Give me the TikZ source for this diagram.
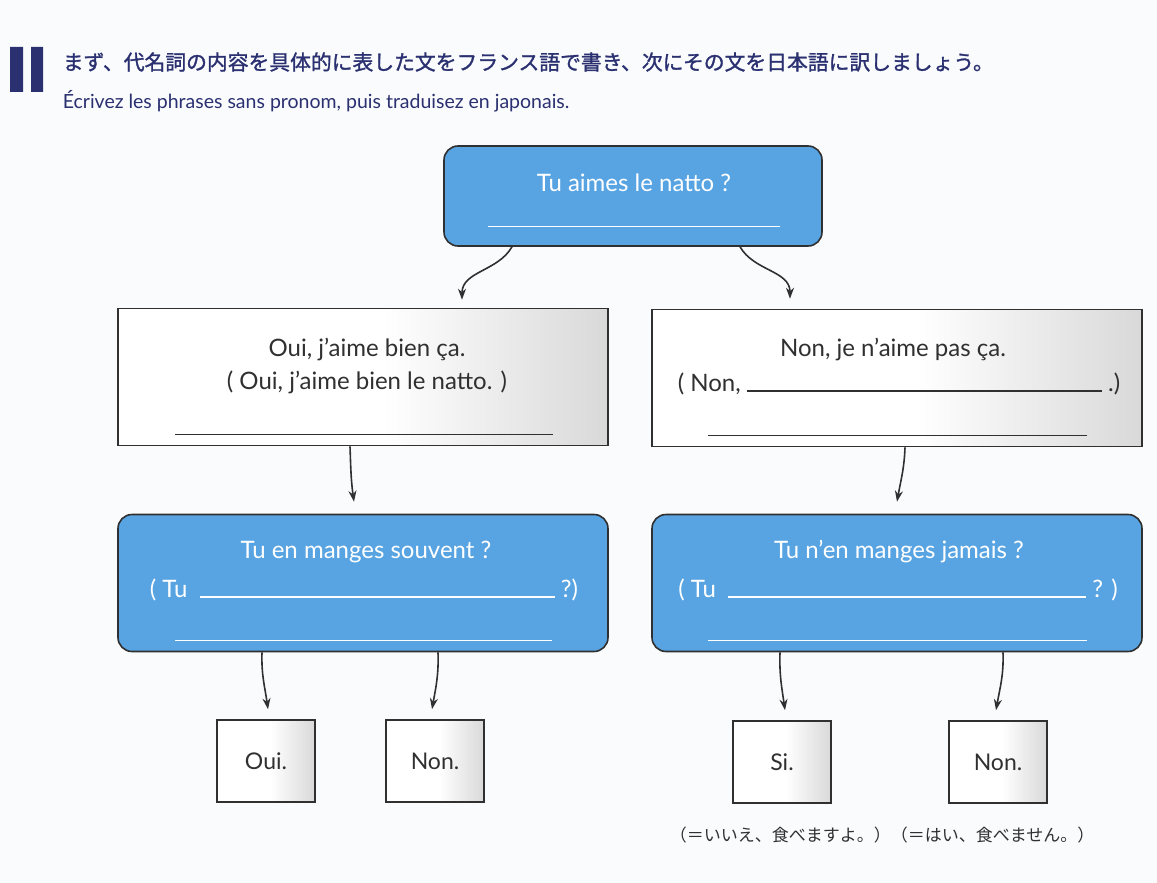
\documentclass[tikz,border=0pt]{standalone}
\usepackage{fontspec}
\setmainfont{Lato}
\newfontfamily\jfont{Noto Sans CJK JP}
\newfontfamily\jboldfont{Noto Sans CJK JP}[FakeBold=1.3]
\usetikzlibrary{arrows.meta,positioning}

\definecolor{boxblue}{RGB}{88,164,226}
\definecolor{navy}{RGB}{42,48,112}
\definecolor{edge}{RGB}{48,48,48}
\definecolor{paper}{RGB}{250,251,253}
\pgfdeclarehorizontalshading{paperfade}{100bp}{color(0bp)=(white); color(25bp)=(white);
  color(52bp)=(white); color(75bp)=(black!15); color(100bp)=(black!15)}

\begin{document}
\begin{tikzpicture}[x=1pt,y=1pt,->,>={Stealth[length=11pt,width=8pt]},
 line width=1.6pt,draw=edge,
 blue box/.style={rectangle,rounded corners=14pt,draw=edge,line width=1.6pt,
   fill=boxblue,inner sep=0pt},
 white box/.style={rectangle,draw=edge,line width=1.6pt,shading=paperfade,
   inner sep=0pt,minimum width=490pt,minimum height=137pt},
 answer box/.style={rectangle,draw=edge,line width=1.6pt,shading=paperfade,
   inner sep=0pt,minimum width=98pt,minimum height=82pt,text=edge,
   font=\fontsize{23}{27}\selectfont},
 txt/.style={inner sep=0pt,font=\fontsize{24}{28}\selectfont},
 blank/.style={-,line width=1.3pt}]
% page
\fill[paper] (0,0) rectangle (1157,-883);
\useasboundingbox (0,0) rectangle (1157,-883);

% heading
\fill[navy] (10,-47) rectangle (23,-92) (31,-47) rectangle (43,-92);
\node[txt,anchor=west,text=navy,font=\jboldfont\fontsize{20.8}{24}\selectfont] (title) at (62,-62)
  {まず、代名詞の内容を具体的に表した文をフランス語で書き、次にその文を日本語に訳しましょう。};
\node[txt,anchor=west,text=navy,font=\fontsize{19.5}{22}\selectfont] (subtitle) at (62,-101)
  {Écrivez les phrases sans pronom, puis traduisez en japonais.};

% boxes
\node[blue box,minimum width=378pt,minimum height=100pt] (top) at (633,-196) {};
\node[white box] (oui) at (363,-377) {};
\node[white box] (non) at (897,-378) {};
\node[blue box,minimum width=490pt,minimum height=137pt] (souvent) at (363,-583) {};
\node[blue box,minimum width=490pt,minimum height=137pt] (jamais) at (897,-583) {};

% texts
\node[txt,text=white] (q1) at (634,-183) {Tu aimes le natto ?};
\draw[blank,white] ([xshift=-145pt,yshift=20pt]top.south) -- ++(292,0);

\node[txt,text=edge,align=center] (a1) at (367,-366)
  {Oui, j'aime bien ça.\\[5pt]( Oui, j'aime bien le natto. )};
\draw[blank,edge] ([xshift=-188pt,yshift=12pt]oui.south) -- ++(378,0);

\node[txt,text=edge] (a2) at (893,-350) {Non, je n'aime pas ça.};
\node[txt,text=edge] (a2b) at (899,-384) {( Non, \rule{355pt}{1.3pt} .)};
\draw[blank,edge] ([xshift=-189pt,yshift=12pt]non.south) -- ++(379,0);

\node[txt,text=white] (q2) at (366,-552) {Tu en manges souvent ?};
\node[txt,text=white] (q2b) at (364,-590) {( Tu \ \rule{355pt}{1.3pt} ?)};
\draw[blank,white] ([xshift=-188pt,yshift=12pt]souvent.south) -- ++(377,0);

\node[txt,text=white] (q3) at (899,-552) {Tu n'en manges jamais ?};
\node[txt,text=white] (q3b) at (898,-590) {( Tu \ \rule{358pt}{1.3pt} ? )};
\draw[blank,white] ([xshift=-189pt,yshift=12pt]jamais.south) -- ++(379,0);

% answers
\foreach \n/\t/\x/\y in {r1/Oui./266/-761, r2/Non./435/-761, r3/Si./782/-762, r4/Non./998/-762}{
  \node[answer box] (\n) at (\x,\y) {\t};}

\node[txt,text=edge,font=\jfont\fontsize{17}{20}\selectfont] (gloss) at (882,-835)
  {（＝いいえ、食べますよ。）（＝はい、食べません。）};

% arrows
\draw ([xshift=-121pt]top.south) to[out=-120,in=90] ([xshift=99pt,yshift=8pt]oui.north);
\draw ([xshift=107pt]top.south) to[out=-60,in=90] ([xshift=-107pt,yshift=10pt]non.north);
\draw ([xshift=-13pt]oui.south) to[out=-88,in=98] ([xshift=-9pt,yshift=12pt]souvent.north);
\draw ([xshift=8pt]non.south) to[out=-92,in=80] ([yshift=12pt]jamais.north);
\draw ([xshift=-101pt]souvent.south) to[out=-92,in=98] ([xshift=2pt,yshift=10pt]r1.north);
\draw ([xshift=75pt]souvent.south) to[out=-88,in=80] ([xshift=-3pt,yshift=10pt]r2.north);
\draw ([xshift=-117pt]jamais.south) to[out=-92,in=98] ([xshift=3pt,yshift=10pt]r3.north);
\draw ([xshift=106pt]jamais.south) to[out=-88,in=80] ([xshift=-2pt,yshift=10pt]r4.north);
\end{tikzpicture}
\end{document}
